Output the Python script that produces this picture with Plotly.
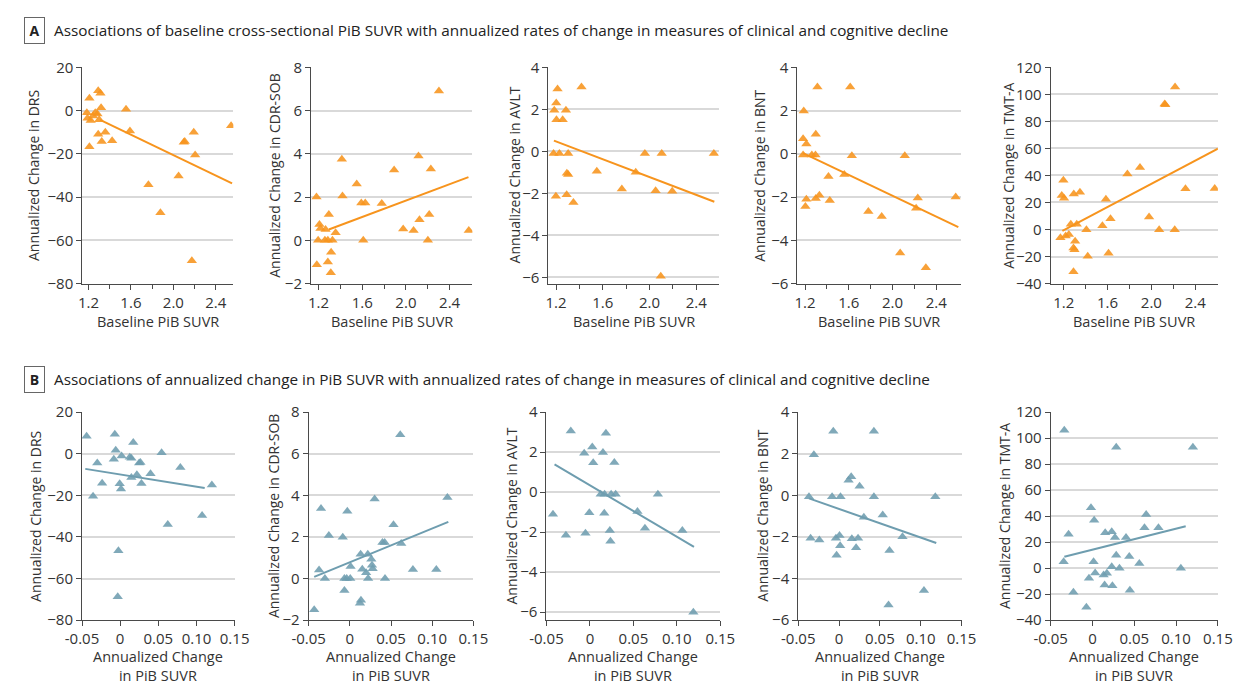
import plotly.graph_objects as go

W, H = 1256, 692

# ---------------- Data: Panel A (baseline PiB SUVR) ----------------
a_drs_x = [1.209, 1.292, 1.313, 1.319, 1.185, 1.191, 1.221, 1.264, 1.285, 1.301, 1.243, 1.292, 1.359,
           1.325, 1.423, 1.209, 1.554, 1.591, 1.765, 1.878, 2.049, 2.098, 2.107, 2.192, 2.205, 2.174, 2.544]
a_drs_y = [5.7, 9.2, 8.0, 1.3, -1.0, -3.6, -4.6, -1.0, -1.6, -4.3, -2.5, -11.0, -10.0,
           -14.3, -13.9, -16.7, 0.6, -9.4, -34.3, -47.2, -30.3, -14.6, -14.3, -10.0, -20.6, -69.4, -7.0]
a_drs_fit_x = [1.31, 2.553]
a_drs_fit_y = [-4.3, -33.7]

a_cdr_x = [1.182, 1.209, 1.218, 1.197, 1.185, 1.265, 1.295, 1.259, 1.286, 1.328, 1.286, 1.316, 1.313,
           1.357, 1.414, 1.420, 1.550, 1.592, 1.628, 1.610, 1.779, 1.892, 1.975, 2.070, 2.115, 2.124,
           2.201, 2.213, 2.228, 2.302, 2.575]
a_cdr_y = [2.0, 0.73, 0.55, 0.0, -1.13, 0.5, 1.2, 0.0, 0.0, 0.0, -1.0, -0.55, -1.5,
           0.35, 3.75, 2.05, 2.6, 1.73, 1.73, 0.0, 1.7, 3.25, 0.52, 0.46, 3.9, 0.95,
           0.0, 1.2, 3.3, 6.9, 0.46]
a_cdr_fit_x = [1.295, 2.572]
a_cdr_fit_y = [0.5, 2.92]

a_avlt_x = [1.185, 1.202, 1.213, 1.204, 1.257, 1.285, 1.179, 1.229, 1.304, 1.293, 1.304, 1.199, 1.291,
            1.349, 1.418, 1.549, 1.763, 1.882, 1.960, 2.052, 2.104, 2.096, 2.194, 2.550]
a_avlt_y = [1.95, 2.3, 2.97, 1.5, 1.5, 1.95, -0.1, -0.1, -0.1, -1.05, -1.1, -2.14, -2.07,
            -2.44, 3.06, -0.95, -1.79, -1.0, -0.1, -1.88, -0.1, -5.95, -1.9, -0.1]
a_avlt_fit_x = [1.182, 2.554]
a_avlt_fit_y = [0.51, -2.4]

a_bnt_x = [1.188, 1.182, 1.212, 1.182, 1.262, 1.295, 1.298, 1.313, 1.212, 1.203, 1.298, 1.331, 1.414,
           1.426, 1.559, 1.613, 1.628, 1.779, 1.901, 2.112, 2.070, 2.216, 2.231, 2.305, 2.578]
a_bnt_y = [1.98, 0.7, 0.45, -0.06, -0.06, -0.06, 0.9, 3.09, -2.1, -2.43, -2.07, -1.92, -1.05,
           -2.16, -0.96, 3.09, -0.09, -2.67, -2.9, -0.09, -4.59, -2.52, -2.04, -5.27, -2.0]
a_bnt_fit_x = [1.182, 2.602]
a_bnt_fit_y = [0.03, -3.39]

a_tmt_x = [1.197, 1.182, 1.203, 1.170, 1.218, 1.247, 1.265, 1.292, 1.348, 1.319, 1.304, 1.289, 1.298,
           1.289, 1.407, 1.419, 1.553, 1.585, 1.627, 1.609, 1.781, 1.896, 1.979, 2.071, 2.121, 2.127,
           2.216, 2.213, 2.311, 2.578]
a_tmt_y = [36.4, 25.1, 23.1, -6.0, -4.8, -3.6, 3.9, 26.3, 27.5, 3.9, -8.7, -13.7, -14.9,
           -31.3, -0.2, -19.8, 2.7, 22.4, 8.0, -17.6, 41.0, 45.8, 9.2, -0.2, 92.8, 92.3,
           105.5, -0.2, 30.1, 30.4]
a_tmt_fit_x = [1.188, 2.607]
a_tmt_fit_y = [-1.0, 59.8]

# ---------------- Data: Panel B (annualized change in PiB SUVR) ----------------
b_drs_x = [-0.044, -0.007, -0.0058, -0.0083, 0.0019, -0.030, -0.0236, -0.0355, -0.0006, 0.0011, 0.0172,
           0.0126, 0.0147, 0.0249, 0.0266, 0.0147, 0.0219, 0.0279, 0.0398, 0.0543, 0.0789, 0.0624,
           0.1074, 0.1202, -0.0023, -0.0032]
b_drs_y = [8.4, 9.3, 1.7, -2.7, -1.1, -4.5, -14.2, -20.4, -14.5, -17.0, 5.4,
           -1.7, -2.2, -4.5, -4.2, -11.4, -10.1, -14.3, -9.7, 0.4, -6.6, -34.0,
           -29.7, -15.1, -46.6, -68.8]
b_drs_fit_x = [-0.0457, 0.1108]
b_drs_fit_y = [-7.3, -16.5]

b_cdr_x = [-0.035, -0.0255, -0.0086, -0.0031, 0.0301, 0.0612, 0.0530, 0.0396, 0.0423, 0.0624, 0.1185,
           -0.0374, -0.0303, -0.0433, -0.0066, -0.0038, 0.0005, 0.0009, -0.0066, 0.0131, 0.0218,
           0.0151, 0.0198, 0.0261, 0.0269, 0.0277, 0.0222, 0.0427, 0.0123, 0.0135, 0.0766, 0.1050]
b_cdr_y = [3.36, 2.07, 1.99, 3.23, 3.82, 6.91, 2.58, 1.73, 1.73, 1.68, 3.89,
           0.41, 0.0, -1.5, 0.0, 0.0, 0.0, 0.58, -0.57, 1.17, 1.17,
           0.45, 0.28, 0.93, 0.64, 0.47, 0.0, 0.0, -1.19, -1.04, 0.44, 0.44]
b_cdr_fit_x = [-0.0433, 0.1196]
b_cdr_fit_y = [0.08, 2.72]

b_avlt_x = [-0.022, 0.0184, -0.0066, 0.0027, 0.015, 0.0038, 0.0281, 0.0124, 0.0169, 0.0244, 0.0296,
            0.0782, -0.0425, -0.0007, 0.0165, 0.0547, -0.0276, -0.0051, 0.0229, 0.0236, 0.0633,
            0.1063, 0.119]
b_avlt_y = [3.05, 2.94, 1.94, 2.26, 1.98, 1.47, 1.48, -0.11, -0.11, -0.11, -0.11,
            -0.11, -1.11, -1.03, -1.06, -0.97, -2.16, -2.06, -1.92, -2.45, -1.81,
            -1.92, -6.0]
b_avlt_fit_x = [-0.0407, 0.1197]
b_avlt_fit_y = [1.39, -2.74]

b_bnt_x = [-0.0071, 0.0426, -0.0309, 0.0116, 0.0148, 0.0251, -0.0369, -0.0086, 0.0017, 0.0426, 0.1178,
           0.0303, 0.0534, -0.0349, -0.0242, -0.0039, 0.0005, 0.0156, 0.0232, 0.0013, 0.0208,
           -0.0031, 0.0776, 0.0617, 0.0605, 0.1039]
b_bnt_y = [3.08, 3.08, 1.95, 0.72, 0.89, 0.44, -0.07, -0.07, -0.07, -0.07, -0.07,
           -1.06, -0.95, -2.06, -2.15, -2.06, -1.93, -2.09, -2.06, -2.43, -2.52,
           -2.88, -1.99, -2.65, -5.27, -4.57]
b_bnt_fit_x = [-0.0369, 0.119]
b_bnt_fit_y = [-0.15, -2.29]

b_tmt_x = [-0.0337, 0.0284, 0.1201, -0.0018, 0.0020, -0.0286, 0.0152, 0.0230, 0.0269, 0.0401, 0.0622,
           0.0642, 0.0789, -0.0345, 0.0013, 0.0284, 0.0440, 0.0560, 0.0230, 0.0323, 0.1057,
           0.0032, -0.0042, 0.0133, 0.0172, 0.0145, 0.0238, -0.0228, 0.0447, -0.0073]
b_tmt_y = [106, 93, 93, 46.5, 36.8, 26, 27.3, 28, 23.5, 23.5, 31,
           41.3, 31, 5, 5, 10, 9, 3.5, 1, 0, 0,
           -3.75, -7.75, -5.25, -4, -13, -13.5, -18.5, -17, -30]
b_tmt_fit_x = [-0.0337, 0.1115]
b_tmt_fit_y = [8.75, 32.25]

# ---------------- Labels ----------------
measures = ["DRS", "CDR-SOB", "AVLT", "BNT", "TMT-A"]
top_x_ticks = [1.2, 1.6, 2.0, 2.4]
top_x_ticktext = ["1.2", "1.6", "2.0", "2.4"]
bot_x_ticks = [-0.05, 0, 0.05, 0.10, 0.15]
bot_x_ticktext = ["-0.05", "0", "0.05", "0.10", "0.15"]
title_a = "Associations of baseline cross-sectional PiB SUVR with annualized rates of change in measures of clinical and cognitive decline"
title_b = "Associations of annualized change in PiB SUVR with annualized rates of change in measures of clinical and cognitive decline"
x_title_a = "Baseline PiB SUVR"
x_title_b = "Annualized Change<br>in PiB SUVR"

# ---------------- Styling / layout geometry (pixels) ----------------
ORANGE = "#F7941D"
BLUE = "#6E9DAF"
GRID = "#D9D9D9"
AXIS = "#4a4a4a"
TXT = "#333333"
FONT = "Open Sans"

top_dom_px = [(67, 222), (301.7, 467.3), (545.3, 720), (800.7, 968.3), (1060.7, 1232.3)]
bot_dom_px = [(66.7, 223.3), (299.3, 468.3), (543.3, 721.7), (801.7, 969.3), (1060.7, 1232.3)]
top_y_px = (58, 280.7)
bot_y_px = (413, 627.3)
top_xr = [[1.142, 2.565], [1.132, 2.608], [1.135, 2.591], [1.129, 2.623], [1.081, 2.607]]
yr = [[-80, 20], [-2, 8], [-6.3, 4], [-6, 4], [-40, 120]]
yr_b = [[-80, 20], [-2, 8], [-6.4, 4], [-6, 4], [-40, 120]]
ydt = [20, 2, 2, 2, 20]
ytitle_x_top = [17, 264, 510, 761.7, 1017.3]
ytitle_x_bot = [18.3, 262.7, 507.3, 765, 1012.7]

top_data = [(a_drs_x, a_drs_y, a_drs_fit_x, a_drs_fit_y),
            (a_cdr_x, a_cdr_y, a_cdr_fit_x, a_cdr_fit_y),
            (a_avlt_x, a_avlt_y, a_avlt_fit_x, a_avlt_fit_y),
            (a_bnt_x, a_bnt_y, a_bnt_fit_x, a_bnt_fit_y),
            (a_tmt_x, a_tmt_y, a_tmt_fit_x, a_tmt_fit_y)]
bot_data = [(b_drs_x, b_drs_y, b_drs_fit_x, b_drs_fit_y),
            (b_cdr_x, b_cdr_y, b_cdr_fit_x, b_cdr_fit_y),
            (b_avlt_x, b_avlt_y, b_avlt_fit_x, b_avlt_fit_y),
            (b_bnt_x, b_bnt_y, b_bnt_fit_x, b_bnt_fit_y),
            (b_tmt_x, b_tmt_y, b_tmt_fit_x, b_tmt_fit_y)]


def px_x(p):
    return p / W


def px_y(p):
    return 1 - p / H


fig = go.Figure()
layout = {}
annotations = []

for row in range(2):
    data = top_data if row == 0 else bot_data
    color = ORANGE if row == 0 else BLUE
    for i in range(5):
        k = row * 5 + i + 1
        xa = "x" if k == 1 else f"x{k}"
        ya = "y" if k == 1 else f"y{k}"
        xs, ys, fx, fy = data[i]
        fig.add_trace(go.Scatter(x=fx, y=fy, mode="lines", xaxis=xa, yaxis=ya,
                                 line=dict(color=color, width=2), showlegend=False,
                                 hoverinfo="skip"))
        fig.add_trace(go.Scatter(x=xs, y=ys, mode="markers", xaxis=xa, yaxis=ya,
                                 marker=dict(symbol="triangle-up", size=9, color=color,
                                             opacity=0.88, line=dict(width=0)),
                                 showlegend=False))
        dpx = top_dom_px[i] if row == 0 else bot_dom_px[i]
        ypx = top_y_px if row == 0 else bot_y_px
        xkey = "xaxis" if k == 1 else f"xaxis{k}"
        ykey = "yaxis" if k == 1 else f"yaxis{k}"
        xaxis = dict(domain=[px_x(dpx[0]), px_x(dpx[1])], anchor=ya,
                     showline=True, linecolor=AXIS, linewidth=1, mirror=False,
                     ticks="outside", ticklen=5, tickcolor=AXIS, tickwidth=1,
                     showgrid=False, zeroline=False,
                     tickfont=dict(family=FONT, size=15, color=TXT))
        if row == 0:
            xaxis.update(range=top_xr[i], tickvals=top_x_ticks, ticktext=top_x_ticktext,
                         minor=dict(ticks="outside", ticklen=4, tickcolor=AXIS,
                                    tickvals=[1.4, 1.8, 2.2], showgrid=False))
            yrange = yr[i]
        else:
            xaxis.update(range=[-0.05, 0.15], tickvals=bot_x_ticks, ticktext=bot_x_ticktext)
            yrange = yr_b[i]
        yaxis = dict(domain=[px_y(ypx[1]), px_y(ypx[0])], anchor=xa, range=yrange,
                     dtick=ydt[i], tick0=0,
                     showline=True, linecolor=AXIS, linewidth=1,
                     ticks="outside", ticklen=5, tickcolor=AXIS, tickwidth=1,
                     showgrid=True, gridcolor=GRID, gridwidth=2, zeroline=False,
                     tickfont=dict(family=FONT, size=15, color=TXT))
        layout[xkey] = xaxis
        layout[ykey] = yaxis

        cx = (dpx[0] + dpx[1]) / 2
        cy = (ypx[0] + ypx[1]) / 2
        ytx = ytitle_x_top[i] if row == 0 else ytitle_x_bot[i]
        annotations.append(dict(text=f"Annualized Change in {measures[i]}", textangle=-90,
                                x=px_x(ytx), y=px_y(cy), xref="paper", yref="paper",
                                xanchor="center", yanchor="middle", showarrow=False,
                                font=dict(family=FONT, size=14, color=TXT)))
        if row == 0:
            annotations.append(dict(text=x_title_a, x=px_x(cx), y=px_y(320), xref="paper",
                                    yref="paper", xanchor="center", yanchor="middle",
                                    showarrow=False, font=dict(family=FONT, size=14.5, color=TXT)))
        else:
            annotations.append(dict(text=x_title_b, x=px_x(cx), y=px_y(675), xref="paper",
                                    yref="paper", xanchor="center", yanchor="middle",
                                    showarrow=False, font=dict(family=FONT, size=14.5, color=TXT)))

# Section headers
for letter, txt, ypos in [("A", title_a, 20), ("B", title_b, 379)]:
    annotations.append(dict(text=f"<b>{letter}</b>", x=px_x(17.5), y=px_y(ypos), xref="paper",
                            yref="paper", xanchor="center", yanchor="middle", showarrow=False,
                            bordercolor="#666666", borderwidth=1, borderpad=3, width=13,
                            font=dict(family=FONT, size=14, color="#222222")))
    annotations.append(dict(text=txt, x=px_x(36), y=px_y(ypos), xref="paper", yref="paper",
                            xanchor="left", yanchor="middle", showarrow=False,
                            font=dict(family=FONT, size=15.3, color="#222222")))

fig.update_layout(width=W, height=H, margin=dict(l=0, r=0, t=0, b=0),
                  paper_bgcolor="white", plot_bgcolor="white",
                  showlegend=False, annotations=annotations, **layout)

fig.write_html("out.html")
